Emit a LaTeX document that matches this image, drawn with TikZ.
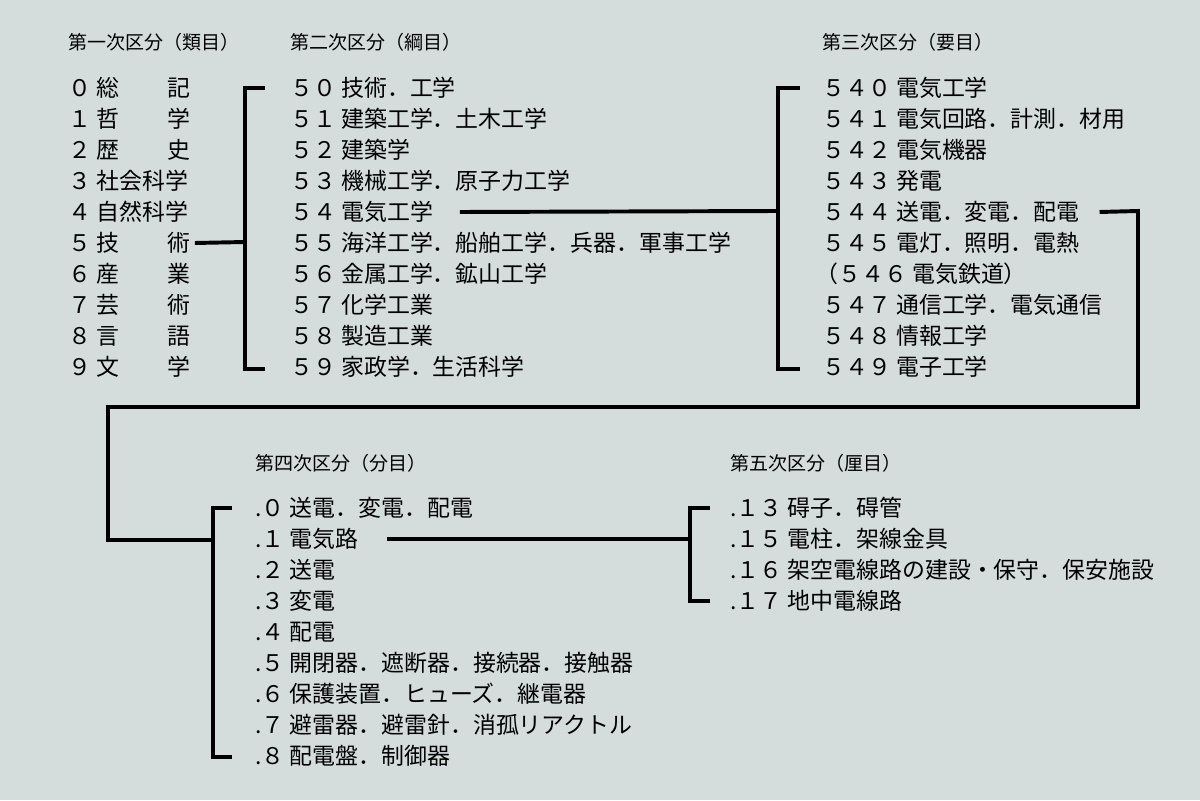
\documentclass[tikz,border=0pt]{standalone}
\usepackage{fontspec}
\setmainfont{Noto Sans CJK JP}
\usetikzlibrary{positioning}

\tikzset{
    item/.style={anchor=west,inner sep=0pt,font=\fontsize{16.3}{18}\selectfont},
    head/.style={anchor=west,inner sep=0pt,font=\fontsize{13.5}{15}\selectfont},
    bar/.style={line width=2.8pt}
}
\newcommand{\spr}[2]{\makebox[4.1em][s]{#1\hfill #2}}

\begin{document}
\begin{tikzpicture}[x=0.025cm,y=-0.025cm]
    \fill[fill={rgb,255:red,212;green,221;blue,220}] (0,0) rectangle (1200,800);
    % headers
    \node[head] (h1) at (68,42) {第一次区分（類目）};
    \node[head] (h2) at (290,42) {第二次区分（綱目）};
    \node[head] (h3) at (822,42) {第三次区分（要目）};
    \node[head] (h4) at (255,463) {第四次区分（分目）};
    \node[head] (h5) at (730,463) {第五次区分（厘目）};
    % first column
    \foreach \t [count=\i from 0] in {%
        ０ \spr{総}{記},１ \spr{哲}{学},２ \spr{歴}{史},３ 社会科学,４ 自然科学,%
        ５ \spr{技}{術},６ \spr{産}{業},７ \spr{芸}{術},８ \spr{言}{語},９ \spr{文}{学}}
        \node[item] (a\i) at (68,88+31*\i) {\t};
    % second column
    \foreach \t [count=\i from 0] in {%
        ５０ 技術．工学,５１ 建築工学．土木工学,５２ 建築学,%
        ５３ 機械工学．原子力工学,５４ 電気工学,%
        ５５ 海洋工学．船舶工学．兵器．軍事工学,%
        ５６ 金属工学．鉱山工学,５７ 化学工業,５８ 製造工業,%
        ５９ 家政学．生活科学}
        \node[item] (b\i) at (290,88+31*\i) {\t};
    % third column
    \foreach \t [count=\i from 0] in {%
        ５４０ 電気工学,５４１ 電気回路．計測．材用,５４２ 電気機器,%
        ５４３ 発電,５４４ 送電．変電．配電,５４５ 電灯．照明．電熱,%
        \hspace{-0.3em}（５４６ 電気鉄道）,５４７ 通信工学．電気通信,%
        ５４８ 情報工学,５４９ 電子工学}
        \node[item] (c\i) at (822,88+31*\i) {\t};
    % fourth column
    \foreach \t [count=\i from 0] in {%
        .０ 送電．変電．配電,.１ 電気路,.２ 送電,.３ 変電,.４ 配電,%
        .５ 開閉器．遮断器．接続器．接触器,.６ 保護装置．ヒューズ．継電器,%
        .７ 避雷器．避雷針．消孤リアクトル,.８ 配電盤．制御器}
        \node[item] (d\i) at (255,508+31*\i) {\t};
    % fifth column
    \foreach \t [count=\i from 0] in {%
        .１３ 碍子．碍管,.１５ 電柱．架線金具,%
        .１６ 架空電線路の建設・保守．保安施設,.１７ 地中電線路}
        \node[item] (e\i) at (730,508+31*\i) {\t};
    % brackets
    \coordinate (k1) at (245,242);
    \draw[bar] (265,88) -- (245,88) -- (245,369) -- (265,369);
    \draw[bar] ([xshift=3pt]a5.east) -- (k1);
    \coordinate (k2) at (778,211);
    \draw[bar] (800,88) -- (778,88) -- (778,369) -- (800,369);
    \draw[bar] ([xshift=19pt]b4.east) -- (k2);
    \coordinate (k3) at (213,540);
    \draw[bar] (232,508) -- (213,508) -- (213,757) -- (232,757);
    \draw[bar] ([xshift=14pt]c4.east) -- (1138,211) -- (1138,407) -- (108,407) -- (108,540) -- (k3);
    \coordinate (k4) at (690,539);
    \draw[bar] (710,508) -- (690,508) -- (690,601) -- (710,601);
    \draw[bar] ([xshift=20pt]d1.east) -- (k4);
\end{tikzpicture}
\end{document}
